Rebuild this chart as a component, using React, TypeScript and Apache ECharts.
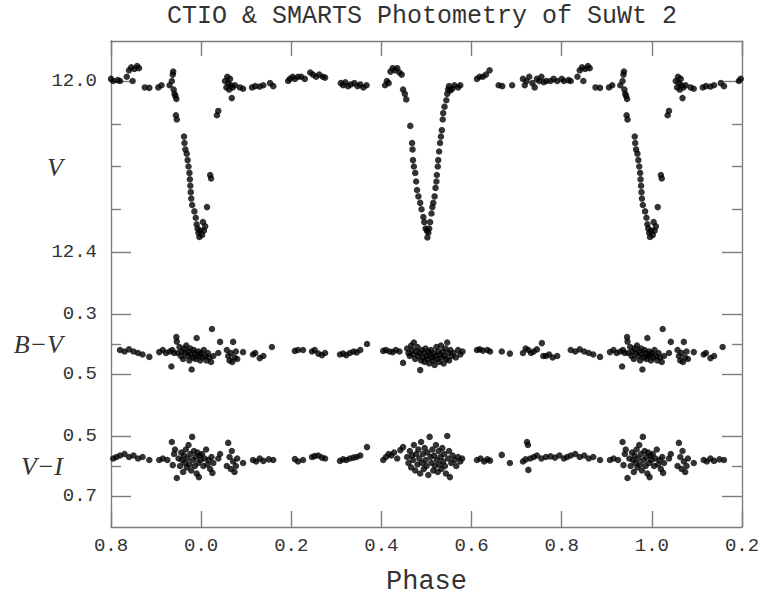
import React, { useEffect, useRef } from "react";
import * as echarts from "echarts";

// ---- data (phase in [0,1), folded plot repeats 0.8-1.0 at left and 0.0-0.2 at right) ----
const vData: [number, number][] = [
  [0.002, 12.36], [0.004, 12.33], [0.006, 12.35], [0.009, 12.34], [0.013, 12.295], [0.020, 12.22], [0.022, 12.228],
  [0.035, 12.08], [0.038, 12.07], [0.053, 12.0], [0.056, 12.015], [0.058, 11.99], [0.060, 12.005], [0.062, 12.02],
  [0.064, 11.995], [0.066, 12.01], [0.068, 12.04], [0.070, 12.015], [0.075, 12.01], [0.086, 12.015], [0.093, 12.018],
  [0.113, 12.015], [0.12, 12.012], [0.13, 12.013], [0.138, 12.01], [0.153, 12.005], [0.16, 12.012],
  [0.193, 12.0], [0.197, 11.995], [0.203, 11.99], [0.208, 11.995], [0.215, 11.99], [0.222, 11.99], [0.23, 11.995],
  [0.242, 11.98], [0.248, 11.985], [0.255, 11.99], [0.262, 11.985], [0.27, 11.99], [0.275, 11.992],
  [0.31, 12.005], [0.315, 12.01], [0.32, 12.003], [0.326, 12.012], [0.332, 12.008], [0.34, 12.005], [0.347, 12.012],
  [0.353, 12.008], [0.36, 12.015], [0.367, 12.01],
  [0.408, 12.01], [0.412, 12.0], [0.416, 12.005], [0.42, 11.978], [0.425, 11.97], [0.43, 11.975], [0.435, 11.97],
  [0.44, 11.98], [0.445, 11.985], [0.448, 12.02], [0.452, 12.03], [0.455, 12.043], [0.464, 12.105], [0.468, 12.145],
  [0.469, 12.16], [0.470, 12.185], [0.472, 12.2], [0.475, 12.215], [0.477, 12.235], [0.479, 12.255], [0.482, 12.27],
  [0.486, 12.285], [0.489, 12.30], [0.493, 12.318], [0.495, 12.33], [0.498, 12.345], [0.501, 12.35], [0.502, 12.366],
  [0.504, 12.355], [0.506, 12.345], [0.508, 12.33], [0.511, 12.31], [0.513, 12.295], [0.515, 12.285], [0.518, 12.27],
  [0.52, 12.25], [0.522, 12.235], [0.523, 12.22], [0.525, 12.2], [0.526, 12.185], [0.528, 12.165], [0.53, 12.145],
  [0.532, 12.13], [0.534, 12.115], [0.536, 12.09], [0.537, 12.075], [0.54, 12.06], [0.544, 12.045], [0.546, 12.03],
  [0.548, 12.02], [0.55, 12.012], [0.553, 12.022], [0.557, 12.018], [0.562, 12.01], [0.57, 12.015], [0.575, 12.01],
  [0.612, 11.995], [0.618, 11.99], [0.625, 11.99], [0.632, 11.985], [0.640, 11.975], [0.66, 12.01], [0.668, 12.012],
  [0.69, 12.01],
  [0.714, 11.995], [0.718, 12.01], [0.722, 12.0], [0.728, 11.99], [0.735, 12.005], [0.74, 12.015], [0.745, 11.995],
  [0.75, 12.0], [0.755, 11.99], [0.76, 12.003], [0.766, 12.0], [0.775, 12.0], [0.782, 11.995], [0.79, 12.0],
  [0.80, 11.995], [0.805, 12.0], [0.815, 11.998], [0.82, 12.0], [0.835, 11.99], [0.84, 11.975], [0.845, 11.968],
  [0.852, 11.972], [0.858, 11.965], [0.862, 11.97], [0.848, 12.0], [0.875, 12.015], [0.885, 12.016], [0.905, 12.015],
  [0.912, 12.01],
  [0.930, 12.01], [0.935, 12.0], [0.937, 11.985], [0.938, 11.978], [0.939, 12.02], [0.941, 12.03], [0.943, 12.035],
  [0.945, 12.042], [0.944, 12.08], [0.946, 12.09], [0.962, 12.13], [0.963, 12.145], [0.965, 12.16], [0.968, 12.17],
  [0.97, 12.185], [0.972, 12.2], [0.974, 12.215], [0.975, 12.23], [0.976, 12.245], [0.977, 12.26], [0.978, 12.275],
  [0.98, 12.29], [0.985, 12.305], [0.988, 12.32], [0.99, 12.335], [0.992, 12.345], [0.994, 12.355], [0.996, 12.365],
  [0.998, 12.35],
];

const bvData: [number, number][] = [
  [0.930, 0.425], [0.934, 0.475], [0.936, 0.42], [0.94, 0.43], [0.945, 0.377], [0.946, 0.392], [0.948, 0.43],
  [0.952, 0.41], [0.955, 0.44], [0.957, 0.425], [0.96, 0.45], [0.962, 0.415], [0.965, 0.43], [0.967, 0.405],
  [0.97, 0.44], [0.972, 0.425], [0.974, 0.455], [0.976, 0.415], [0.978, 0.435], [0.979, 0.485], [0.982, 0.445],
  [0.984, 0.42], [0.986, 0.43], [0.988, 0.45], [0.99, 0.38], [0.992, 0.44], [0.994, 0.425], [0.996, 0.435],
  [0.998, 0.455], [0.0, 0.43], [0.003, 0.445], [0.006, 0.42], [0.009, 0.44], [0.012, 0.455], [0.015, 0.43],
  [0.018, 0.445], [0.022, 0.46], [0.024, 0.35], [0.027, 0.44], [0.038, 0.43], [0.042, 0.393], [0.057, 0.42],
  [0.06, 0.44], [0.063, 0.455], [0.066, 0.43], [0.069, 0.46], [0.071, 0.393], [0.074, 0.445], [0.077, 0.425],
  [0.08, 0.45], [0.093, 0.427], [0.115, 0.435], [0.12, 0.43], [0.13, 0.447], [0.138, 0.44], [0.157, 0.41],
  [0.208, 0.423], [0.215, 0.42], [0.226, 0.42], [0.246, 0.425], [0.252, 0.42], [0.26, 0.432], [0.268, 0.437],
  [0.275, 0.43], [0.308, 0.435], [0.315, 0.432], [0.322, 0.437], [0.33, 0.43], [0.338, 0.425], [0.345, 0.428],
  [0.353, 0.42], [0.368, 0.40],
  [0.404, 0.423], [0.41, 0.42], [0.418, 0.425], [0.425, 0.427], [0.432, 0.42], [0.44, 0.425], [0.448, 0.463],
  [0.457, 0.415], [0.46, 0.43], [0.463, 0.44], [0.466, 0.405], [0.468, 0.42], [0.47, 0.435], [0.472, 0.395],
  [0.475, 0.45], [0.477, 0.425], [0.48, 0.41], [0.482, 0.44], [0.484, 0.43], [0.486, 0.487], [0.488, 0.455],
  [0.49, 0.42], [0.492, 0.445], [0.494, 0.43], [0.496, 0.46], [0.498, 0.415], [0.5, 0.44], [0.502, 0.45],
  [0.504, 0.425], [0.506, 0.465], [0.508, 0.435], [0.51, 0.42], [0.512, 0.445], [0.514, 0.455], [0.516, 0.43],
  [0.518, 0.47], [0.52, 0.44], [0.522, 0.41], [0.524, 0.45], [0.526, 0.425], [0.528, 0.46], [0.53, 0.435],
  [0.532, 0.405], [0.534, 0.445], [0.536, 0.425], [0.538, 0.465], [0.54, 0.44], [0.542, 0.415], [0.544, 0.45],
  [0.546, 0.395], [0.548, 0.43], [0.55, 0.455], [0.553, 0.42], [0.556, 0.44], [0.56, 0.43], [0.565, 0.445],
  [0.57, 0.42], [0.575, 0.435], [0.58, 0.425],
  [0.612, 0.42], [0.618, 0.418], [0.625, 0.422], [0.635, 0.42], [0.641, 0.425], [0.667, 0.425], [0.685, 0.432],
  [0.714, 0.43], [0.72, 0.415], [0.726, 0.42], [0.732, 0.43], [0.738, 0.425], [0.745, 0.418], [0.756, 0.397],
  [0.759, 0.44], [0.765, 0.44], [0.772, 0.435], [0.78, 0.445], [0.79, 0.44], [0.82, 0.42], [0.83, 0.425],
  [0.84, 0.418], [0.85, 0.425], [0.86, 0.43], [0.87, 0.435], [0.885, 0.443], [0.907, 0.427], [0.915, 0.42],
  [0.922, 0.43],
];

const viData: [number, number][] = [
  [0.935, 0.52], [0.937, 0.597], [0.94, 0.56], [0.942, 0.545], [0.946, 0.64], [0.95, 0.575], [0.953, 0.6],
  [0.956, 0.555], [0.958, 0.58], [0.96, 0.62], [0.962, 0.565], [0.964, 0.59], [0.966, 0.545], [0.968, 0.605],
  [0.97, 0.575], [0.972, 0.53], [0.974, 0.595], [0.976, 0.56], [0.978, 0.615], [0.98, 0.503], [0.982, 0.58],
  [0.984, 0.55], [0.986, 0.6], [0.988, 0.57], [0.99, 0.625], [0.992, 0.555], [0.994, 0.59], [0.995, 0.637],
  [0.997, 0.565], [0.999, 0.58], [0.002, 0.56], [0.005, 0.6], [0.008, 0.575], [0.011, 0.545], [0.014, 0.595],
  [0.017, 0.58], [0.02, 0.61], [0.023, 0.57], [0.025, 0.623], [0.027, 0.59], [0.038, 0.575], [0.042, 0.56],
  [0.057, 0.6], [0.06, 0.523], [0.063, 0.57], [0.066, 0.61], [0.068, 0.55], [0.071, 0.585], [0.074, 0.62],
  [0.077, 0.6], [0.08, 0.575], [0.093, 0.59], [0.115, 0.58], [0.122, 0.585], [0.13, 0.575], [0.138, 0.583],
  [0.15, 0.578], [0.16, 0.58],
  [0.208, 0.577], [0.215, 0.585], [0.226, 0.58], [0.246, 0.57], [0.252, 0.567], [0.26, 0.565], [0.268, 0.572],
  [0.275, 0.575], [0.308, 0.583], [0.315, 0.578], [0.322, 0.58], [0.33, 0.575], [0.338, 0.572], [0.345, 0.57],
  [0.353, 0.565], [0.368, 0.537],
  [0.404, 0.58], [0.41, 0.57], [0.416, 0.56], [0.422, 0.565], [0.428, 0.555], [0.435, 0.575], [0.442, 0.547],
  [0.448, 0.537], [0.457, 0.57], [0.46, 0.59], [0.463, 0.55], [0.466, 0.605], [0.468, 0.565], [0.47, 0.58],
  [0.472, 0.53], [0.475, 0.615], [0.477, 0.56], [0.48, 0.595], [0.482, 0.545], [0.484, 0.575], [0.486, 0.625],
  [0.488, 0.52], [0.49, 0.59], [0.492, 0.56], [0.494, 0.61], [0.496, 0.54], [0.498, 0.58], [0.5, 0.6],
  [0.502, 0.555], [0.504, 0.63], [0.507, 0.503], [0.509, 0.57], [0.511, 0.59], [0.513, 0.545], [0.515, 0.615],
  [0.517, 0.565], [0.519, 0.6], [0.521, 0.53], [0.523, 0.58], [0.525, 0.62], [0.527, 0.55], [0.529, 0.595],
  [0.531, 0.57], [0.533, 0.61], [0.535, 0.54], [0.537, 0.585], [0.539, 0.56], [0.541, 0.6], [0.543, 0.625],
  [0.546, 0.5], [0.548, 0.575], [0.55, 0.55], [0.552, 0.637], [0.555, 0.59], [0.558, 0.565], [0.562, 0.58],
  [0.566, 0.6], [0.57, 0.57], [0.575, 0.585], [0.579, 0.575],
  [0.612, 0.58], [0.62, 0.575], [0.628, 0.585], [0.635, 0.578], [0.641, 0.582], [0.667, 0.563], [0.685, 0.59],
  [0.714, 0.585], [0.72, 0.578], [0.723, 0.52], [0.725, 0.53], [0.726, 0.613], [0.73, 0.575], [0.738, 0.57],
  [0.745, 0.565], [0.755, 0.575], [0.765, 0.57], [0.775, 0.568], [0.785, 0.572], [0.795, 0.565], [0.805, 0.575],
  [0.812, 0.57], [0.82, 0.565], [0.83, 0.56], [0.84, 0.57], [0.85, 0.565], [0.86, 0.575], [0.87, 0.57],
  [0.885, 0.58], [0.907, 0.58], [0.915, 0.575], [0.925, 0.58],
];

const phaseMin = -0.2;
const phaseMax = 1.2;
const vMajor = [12.0, 12.4];
const vMinor = [12.1, 12.2, 12.3];
const bvMajor = [0.3, 0.5];
const bvMinor = [0.4];
const viMajor = [0.5, 0.7];
const viMinor = [0.6];
const titleText = "CTIO & SMARTS Photometry of SuWt 2";

// phase-folded display: repeat 0.8-1.0 before 0 and 0.0-0.2 after 1
function fold(data: [number, number][]): [number, number][] {
  const out: [number, number][] = [];
  for (const [p, y] of data) {
    out.push([p, y]);
    if (p >= 0.8) out.push([p - 1, y]);
    if (p < 0.2) out.push([p + 1, y]);
  }
  return out;
}

const FRAME = "#7d7d7d";
const TEXT = "#333";
const MONO = "Liberation Mono";
const SERIF = "Liberation Serif";
const lineStyle = { color: FRAME, width: 1.4 };

function yAxes(gridIndex: number, min: number, max: number, major: number[], minor: number[],
  name: string, inverse: boolean, nameShift: number) {
  const common = { type: "value", gridIndex, min, max, inverse, splitLine: { show: false } };
  const nameStyle = { fontFamily: SERIF, fontStyle: "italic", fontSize: 26, color: TEXT };
  return [
    {
      ...common, position: "left", name: "{n|" + name + "}", nameLocation: "middle", nameGap: 48, nameRotate: 0,
      nameMoveOverlap: false,
      nameTextStyle: { ...nameStyle, rich: { n: { ...nameStyle, padding: [nameShift, 0, 0, 0] } } },
      axisLine: { show: true, onZero: false, lineStyle },
      axisTick: { show: true, inside: true, length: 20, customValues: major, lineStyle },
      axisLabel: {
        show: true, customValues: major, margin: 14, fontFamily: MONO, fontSize: 19, color: TEXT,
        formatter: (v: number) => Number(v).toFixed(1),
      },
    },
    {
      ...common, position: "left", axisLine: { show: false, onZero: false },
      axisTick: { show: true, inside: true, length: 10, customValues: minor, lineStyle },
      axisLabel: { show: false },
    },
    {
      ...common, position: "right", axisLine: { show: true, onZero: false, lineStyle },
      axisTick: { show: true, inside: true, length: 20, customValues: major, lineStyle },
      axisLabel: { show: false },
    },
    {
      ...common, position: "right", axisLine: { show: false, onZero: false },
      axisTick: { show: true, inside: true, length: 10, customValues: minor, lineStyle },
      axisLabel: { show: false },
    },
  ];
}

const phaseLabel = (v: number) => {
  let p = v;
  if (p < -1e-9) p += 1;
  else if (p > 1 + 1e-9) p -= 1;
  return Math.abs(p).toFixed(1);
};

export default function App() {
  const ref = useRef<HTMLDivElement>(null);
  useEffect(() => {
    if (!ref.current) return;
    const chart = echarts.init(ref.current, null, { renderer: "svg" });
    const gridBase = { left: 111, right: 16, outerBoundsMode: "none", containLabel: false };
    const xCommon = { type: "value", min: phaseMin, max: phaseMax, interval: 0.2, splitLine: { show: false } };
    const sym = { type: "scatter", symbol: "circle", symbolSize: 6.5, itemStyle: { color: "#000" }, silent: true };
    chart.setOption({
      animation: false,
      backgroundColor: "#fff",
      title: {
        text: titleText, left: 167, top: 4, padding: 0,
        textStyle: { fontFamily: MONO, fontSize: 25, fontWeight: "normal", color: TEXT },
      },
      grid: [
        { ...gridBase, top: 41, height: 242 },
        { ...gridBase, top: 283, height: 122 },
        { ...gridBase, top: 405, height: 122 },
      ],
      xAxis: [
        {
          ...xCommon, gridIndex: 0, position: "top",
          axisLine: { show: true, onZero: false, lineStyle },
          axisTick: { show: true, inside: true, length: 15, lineStyle },
          axisLabel: { show: false },
        },
        { ...xCommon, gridIndex: 1, show: false, axisLine: { onZero: false } },
        {
          ...xCommon, gridIndex: 2, position: "bottom",
          axisLine: { show: true, onZero: false, lineStyle },
          axisTick: { show: true, inside: true, length: 16, lineStyle },
          axisLabel: { show: true, margin: 9, fontFamily: MONO, fontSize: 19, color: TEXT, formatter: phaseLabel },
          name: "Phase", nameLocation: "middle", nameGap: 41, nameMoveOverlap: false,
          nameTextStyle: { fontFamily: MONO, fontSize: 27, lineHeight: 27, color: TEXT },
        },
      ],
      yAxis: [
        ...yAxes(0, 11.9064, 12.4725, vMajor, vMinor, "V", true, 10),
        ...yAxes(1, 0.1967, 0.6033, bvMajor, bvMinor, "B\u2212V", true, 0),
        ...yAxes(2, 0.3967, 0.8033, viMajor, viMinor, "V\u2212I", true, 0),
      ],
      series: [
        { ...sym, name: "V", xAxisIndex: 0, yAxisIndex: 0, data: fold(vData) },
        { ...sym, name: "B-V", xAxisIndex: 1, yAxisIndex: 4, data: fold(bvData) },
        { ...sym, name: "V-I", xAxisIndex: 2, yAxisIndex: 8, data: fold(viData) },
      ],
    });
    return () => chart.dispose();
  }, []);
  return (
    <div
      ref={ref}
      style={{ position: "absolute", left: 0, top: 0, width: 758, height: 596, background: "#fff" }}
    />
  );
}
